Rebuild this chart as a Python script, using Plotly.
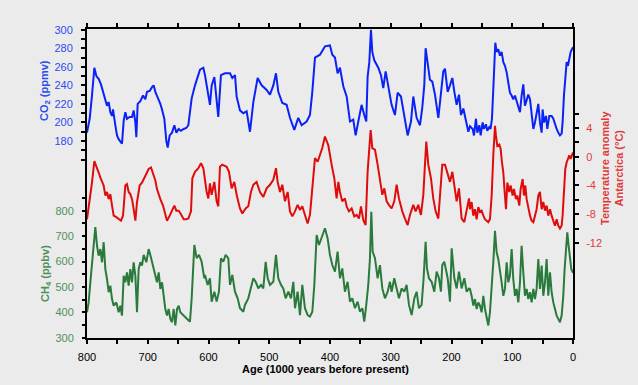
import plotly.graph_objects as go

# ---------------- data ----------------
co2_age = [800, 795.6, 791.8, 787.9, 784.6, 780.8, 777, 773.7, 769.8, 767.1,
           764.3, 761.6, 758.8, 757.2, 753.4, 750.6, 747.9, 745.1, 742.4, 739.6,
           736.9, 734.2, 729.8, 725.9, 723.2, 720.4, 718.8, 716.6, 712.2, 707.8,
           704, 701.2, 696.8, 693, 690.3, 687.5, 684.8, 682, 679.3, 676.5,
           672.7, 669.4, 667.2, 663.9, 660.1, 656.2, 652.9, 649.1, 645.3, 640.9,
           636.5, 633.2, 627.7, 622.2, 614, 608.5,
           605.8, 597.6, 594.8, 590.4, 588.2, 583.9, 579.5, 572.9, 564.6, 560.8, 556.4, 553.7, 548.2, 542.7, 537.2,
           531.7, 526.2, 519.1, 512.5, 504.3, 498.8, 493.3, 488.9, 485.1, 478.5, 471.4, 465.9, 458.8, 452.2, 446.7,
           438.5, 433, 429.1, 424.7, 416.5,
           408.3, 400.1, 396.2, 391.8, 387.5, 383.6, 378.1, 372.6, 367.1, 361.7, 357.8, 353.4, 348, 343.6, 340.3,
           338.1, 335.3, 332.6, 330.4, 327.1, 320.5, 316.1, 312.3, 308.4, 303, 298.6, 293.1, 288.7, 283.2, 277.7,
           272.2, 266.7, 262.9, 257.4, 251.9, 248.1, 244.8, 242.6, 239.3, 235.5, 231.6, 227.2, 221.7, 217.4, 213.5,
           210.7, 206.3, 202.5, 198.6, 195.3, 191.5, 187.7, 184.4, 180.5, 176.7, 172.3,
           169.6, 165.2, 163, 159.7, 157.5, 154.2, 152, 148.7, 146.6, 143.3,
           141.1, 137.8, 135.6, 133.4, 131.2, 129.5, 127.9, 125.7, 123, 120.2,
           117.5, 114.7, 112, 109.2, 106.5, 103.8, 101, 98.3, 95.5, 92.8,
           90, 87.3, 84.6, 81.8, 79.1, 76.3, 73.6, 70.8, 68.1, 65.3,
           62.6, 59.9, 57.1, 54.4, 51.6, 50, 47.8, 44.5, 42.3, 39,
           35.2, 32.4, 29.7, 26.9, 24.2, 21.5, 18.7, 17.1, 14.9, 12.7,
           10.5, 8.3, 6.1, 3.9, 1.7, 0]
co2_ppmv = [189, 204, 229, 259, 250, 247, 241, 233, 223, 218,
            222, 211, 207, 214, 197, 186, 182, 180, 177, 202,
            211, 204, 206, 206, 213, 200, 184, 220, 223, 229,
            225, 233, 234, 238, 240, 233, 229, 223, 220, 214,
            204, 180, 173, 186, 189, 197, 189, 193, 191, 193,
            194, 197, 226, 240, 257, 259,
            251, 219, 240, 249, 233, 206, 251, 253, 253, 248, 251, 228, 213, 210, 212,
            190, 222, 248, 240, 235, 230, 240, 253, 233, 221, 219, 205, 192, 205, 197,
            201, 208, 233, 270, 273,
            282, 283, 273, 270, 253, 259, 239, 228, 201, 203, 186, 201, 219, 208, 201,
            249, 265, 300, 276, 267, 259, 251, 237, 255, 237, 219, 208, 232, 228, 205,
            186, 201, 228, 205, 197, 216, 240, 280, 262, 246, 244, 230, 205, 233, 255,
            258, 233, 240, 248, 233, 219, 230, 208, 215, 205, 190,
            196, 193, 186, 204, 189, 197, 186, 200, 193, 198,
            191, 195, 193, 204, 236, 265, 286, 276, 279, 272,
            276, 265, 261, 254, 243, 232, 229, 225, 229, 223,
            218, 211, 229, 241, 218, 225, 230, 225, 211, 193,
            200, 211, 220, 200, 189, 214, 200, 207, 193, 207,
            207, 204, 197, 193, 189, 186, 188, 200, 229, 243,
            265, 261, 268, 276, 279, 281]

temp_age = [800, 795.6, 791.8, 787.9, 784.6, 780.8, 778, 775.3, 772.6, 769.8,
            767.1, 764.3, 761.6, 758.8, 756.1, 751.7, 747.9, 744, 740.7, 736.9,
            734.2, 731.4, 728.7, 725.9, 723.2, 720.4, 717.7, 713.3, 709.5, 705.6,
            702.3, 698.5, 694.6, 691.4, 687.5, 684.8, 682, 679.3, 674.9, 671.1,
            668.3, 663.9, 660.1, 656.2, 652.9, 649.1, 645.3, 640.9, 636.5,
            633.2, 628.8, 626.6, 622.2, 616.7, 612.3, 608.5,
            603, 600.3, 597.6, 594.8, 590.4, 586.6, 583.9, 581.1, 577.3, 570.1, 566.3, 561.9, 557.5, 553.7, 548.2,
            544.3, 538.9, 534.5, 530.1, 526.2, 520.8, 515.3, 509.8, 504.3, 498.8, 493.3, 488.9, 486.2, 482.3,
            478.5, 474.1, 469.7, 465.9, 462, 457.7, 453.3, 449.4, 445.6, 441.2, 436.8, 433, 429.1, 424.7, 420.3,
            416.5, 412.7,
            408.3, 402.8, 397.3, 392.9, 389.1, 386.3, 383.6, 379.8, 375.4, 372.6, 368.8, 364.4, 360, 356.2, 352.3,
            349, 345.2, 341.4, 338.1, 335.3, 333.1, 330.4, 326, 321.6, 317.8, 313.9, 310.6, 306.8, 303, 298.6,
            294.2, 290.3, 286.5, 281, 276.6, 272.2, 268.4, 262.9, 259.1, 254.7, 250.3, 246.4, 243.7, 241.5, 238.2,
            233.8, 230, 226.1, 221.7, 219, 215.2,
            210.7, 206.3, 202.5, 198.6, 195.3, 191.5, 187.7, 183.3, 178.9, 175, 171.2,
            169.6, 166.9, 164.1, 161.4, 158.6, 155.9, 153.1, 150.4, 147.6, 144.9,
            142.2, 139.4, 136.7, 133.9, 131.2, 128.4, 126.8, 124.6, 121.3, 119.1,
            116.9, 114.7, 112.5, 110.3, 108.1, 104.9, 102.7, 99.4, 97.2, 93.9,
            91.7, 88.4, 86.2, 82.9, 80.7, 78.5, 76.3, 73.6, 70.8, 68.1,
            65.3, 62.6, 59.9, 57.1, 54.4, 51.6, 48.9, 46.1, 43.4, 40.7,
            37.9, 35.2, 32.4, 29.7, 26.9, 24.2, 21.5, 18.7, 17.1, 14.9,
            12.7, 10.5, 8.3, 6.1, 3.9, 1.7, 0]
temp_c = [-8.7, -6.3, -3.6, -0.6, -1.5, -2.2, -2.9, -3.6, -4.0, -5.4,
          -4.9, -5.9, -5.2, -6.8, -8.2, -8.4, -8.7, -8.9, -8.2, -4.0,
          -3.8, -4.9, -5.2, -5.9, -7.3, -8.9, -6.3, -4.0, -3.6, -2.9,
          -2.2, -1.7, -1.5, -2.2, -3.3, -4.5, -5.4, -5.9, -6.8, -8.0,
          -8.9, -8.2, -7.5, -6.8, -7.5, -7.5, -8.0, -8.7, -8.7,
          -8.6, -7.6, -3.0, -2.1, -1.6, -0.9, -1.6,
          -4.9, -5.8, -3.7, -5.3, -3.5, -6.2, -6.9, -1.4, -1.1, -1.4, -2.1, -4.4, -3.5, -5.3, -7.2,
          -7.9, -7.2, -6.9, -4.9, -3.9, -3.5, -4.9, -5.6, -4.4, -3.9, -3.2, -1.6, -3.5, -4.9,
          -3.9, -6.2, -4.9, -7.6, -8.3, -7.6, -6.7, -7.4, -6.9, -8.1, -9.3, -8.1, -3.9, -0.2, -0.7,
          0.2, 1.2,
          2.8, 1.6, -1.1, -3.0, -5.8, -3.5, -4.9, -6.2, -5.8, -6.9, -7.6, -7.2, -8.3, -8.1, -8.6,
          -6.9, -8.8, -9.5, -2.1, 0.7, 3.7, 1.2, 1.0, -1.1, -3.5, -5.3, -4.4, -6.2, -6.7, -7.2,
          -6.2, -3.9, -5.8, -7.6, -8.6, -9.5, -8.1, -6.7, -7.6, -6.7, -8.1, -5.3, -1.1, 2.1, -1.1,
          -3.0, -5.8, -7.6, -8.6, -4.9, -1.1,
          -1.1, -2.5, -3.5, -2.1, -4.4, -6.2, -4.4, -8.6, -9.1, -7.6, -5.8,
          -7.3, -6.3, -8.2, -7.3, -8.7, -7.0, -7.7, -7.5, -8.2, -8.7,
          -8.9, -9.1, -8.7, -5.4, 0.2, 4.3, 2.9, 1.5, 1.7, 1.1,
          -0.8, -2.2, -4.9, -7.3, -3.6, -4.9, -4.0, -5.4, -4.5, -5.9,
          -5.4, -6.8, -4.5, -3.1, -5.4, -4.0, -5.9, -7.3, -8.2, -8.9,
          -9.1, -8.2, -7.3, -5.4, -4.9, -7.3, -6.3, -7.5, -6.8, -8.2,
          -7.3, -8.2, -8.9, -9.6, -8.7, -9.6, -10.0, -9.6, -8.2, -4.0,
          -1.7, -0.8, -0.3, 0.2, -0.3, 0.4, 0.6]

ch4_age = [800, 797.3, 794.5, 791.8, 789, 786.3, 783.5, 780.8, 778, 775.3,
           772.6, 769.8, 767.1, 764.3, 761.6, 758.8, 756.1, 751.7, 747.9, 745.1,
           742.4, 739.6, 736.9, 734.2, 731.4, 728.7, 725.9, 723.2, 720.4, 717.7,
           715, 712.2, 709.5, 706.7, 702.3, 698.5, 695.7, 693, 690.3, 687.5,
           684.8, 682, 679.3, 676.5, 673.8, 671.1, 668.3, 665.6, 662.8, 660.1,
           657.3, 654.6, 651.8, 649.1, 646.4, 640.9, 636.5,
           630.5, 627.7, 623.3, 619.5, 615.6, 611.3, 606.9,
           605.8, 601.4, 597.6, 594.8, 590.4, 586.6, 582.8, 579.5, 575.6, 571.8, 567.4, 564.6, 560.8, 556.4, 552,
           548.2, 542.7, 540, 534.5, 530.1, 526.2, 522.4, 518, 513.6, 509.8, 505.9, 502.6, 498.8, 493.3, 488.9,
           485.1, 480.7, 476.9, 473, 468.6, 464.2, 460.4, 457.6, 453.3, 449.4, 445.6, 441.2, 436.8, 433, 429.1,
           425.8, 422, 418.1, 413.8,
           408.3, 403.9, 400.1, 396.2, 391.8, 387.5, 383.6, 379.8, 375.4, 371, 367.1, 363.3, 358.9, 354.5, 350.7,
           346.8, 343.6, 340.3, 337, 334.2, 332, 329.8, 326, 321.6, 317.8, 313.9, 309.5, 305.1, 301.3, 298.6,
           294.2, 290.3, 286.5, 282.1, 277.7, 273.9, 270, 265.6, 261.2, 257.4, 253.6, 249.2, 245.9, 242.6, 240.4,
           237.1, 232.7, 228.3, 224.5, 220.6, 217.4, 215.2, 211.9,
           210.7, 206.3, 202.5, 199.7, 195.3, 191.5, 187.7, 183.3, 178.9, 175, 171.2,
           169.6, 166.9, 164.1, 161.4, 158.6, 155.9, 153.1, 150.4, 147.6, 144.9,
           142.2, 139.4, 136.7, 133.9, 131.2, 128.4, 125.7, 123, 120.2, 117.5,
           114.7, 112, 109.2, 106.5, 103.8, 101, 98.3, 95.5, 92.8, 90,
           87.3, 84.6, 81.8, 79.1, 76.3, 73.6, 70.8, 68.1, 65.3, 62.6,
           59.9, 57.1, 54.4, 51.6, 48.9, 46.1, 43.4, 40.7, 37.9, 35.2,
           32.4, 29.7, 26.9, 24.2, 21.5, 18.7, 16, 13.8, 11.6, 9.4,
           7.2, 5, 2.8, 0]
ch4_ppbv = [400, 439, 518, 597, 676, 735, 662, 623, 649, 597,
            676, 570, 531, 479, 505, 452, 426, 439, 400, 426,
            387, 544, 518, 557, 505, 570, 518, 597, 544, 400,
            570, 597, 584, 626, 597, 649, 626, 597, 570, 544,
            518, 557, 492, 518, 465, 413, 387, 413, 374, 361,
            413, 348, 413, 426, 400, 387, 374,
            363, 455, 665, 613, 626, 599, 534,
            547, 508, 534, 442, 481, 442, 481, 613, 599, 626, 613, 508, 547, 481, 455,
            416, 402, 429, 455, 494, 534, 520, 494, 508, 494, 599, 534, 508, 520, 626,
            534, 508, 494, 455, 481, 455, 520, 416, 481, 389, 508, 416, 389, 383, 402,
            508, 704, 665, 691,
            731, 691, 626, 586, 560, 639, 534, 573, 481, 520, 442, 455, 416, 442, 402,
            416, 363, 429, 508, 613, 796, 639, 613, 534, 586, 494, 455, 481, 520, 481,
            534, 494, 455, 494, 481, 508, 429, 389, 455, 481, 416, 429, 534, 678, 573,
            534, 520, 481, 560, 534, 481, 586, 599,
            586, 534, 442, 652, 534, 494, 560, 494, 534, 481, 494,
            492, 465, 426, 452, 413, 439, 426, 400, 465, 413,
            374, 348, 400, 492, 597, 721, 636, 610, 570, 518,
            465, 492, 597, 518, 544, 649, 531, 465, 492, 439,
            518, 662, 557, 465, 492, 452, 479, 439, 492, 452,
            492, 610, 492, 584, 465, 518, 610, 465, 557, 479,
            439, 413, 387, 374, 361, 387, 465, 570, 662, 715,
            662, 623, 570, 555]

assert len(co2_age) == len(co2_ppmv)
assert len(temp_age) == len(temp_c)
assert len(ch4_age) == len(ch4_ppbv)

age_ticks = list(range(0, 801, 50))
co2_ticks = list(range(160, 301, 10))
ch4_ticks = list(range(300, 851, 50))
temp_ticks = list(range(-12, 7, 2))

# ---------------- styling ----------------
BG = "#ebebeb"
BLUE_LINE = "#0a22f5"
BLUE_TXT = "#2b4cf0"
RED_LINE = "#e00c0c"
RED_TXT = "#e03a3a"
GREEN_LINE = "#2a7a3c"
GREEN_TXT = "#4f8f5c"
FONT = "Liberation Sans, Arial, sans-serif"
LW = 2.0

fig = go.Figure()
fig.add_trace(go.Scatter(x=co2_age, y=co2_ppmv, mode="lines", yaxis="y",
                         line=dict(color=BLUE_LINE, width=LW), name="CO2"))
fig.add_trace(go.Scatter(x=temp_age, y=temp_c, mode="lines", yaxis="y3",
                         line=dict(color=RED_LINE, width=LW), name="Temperature"))
fig.add_trace(go.Scatter(x=ch4_age, y=ch4_ppbv, mode="lines", yaxis="y2",
                         line=dict(color=GREEN_LINE, width=LW), name="CH4"))

fig.update_layout(
    width=638, height=385,
    margin=dict(l=87, r=65, t=29, b=47),
    paper_bgcolor=BG, plot_bgcolor=BG,
    showlegend=False,
    font=dict(family=FONT, size=11),
    xaxis=dict(range=[800, 0], showgrid=False, zeroline=False,
               showline=True, linecolor="black", linewidth=2, mirror="ticks",
               ticks="outside", ticklen=4, tickwidth=1.5, tickcolor="black",
               tickvals=age_ticks,
               ticktext=[str(v) if v % 100 == 0 else "" for v in age_ticks],
               tickfont=dict(color="black", size=11), ticklabelstandoff=4),
    yaxis=dict(range=[-32.4, 300.75], showgrid=False, zeroline=False,
               showline=True, linecolor="black", linewidth=2,
               ticks="outside", ticklen=4, tickwidth=1.5, tickcolor="black",
               tickvals=co2_ticks,
               ticktext=[str(v) if (v % 20 == 0 and v >= 180) else "" for v in co2_ticks],
               tickfont=dict(color=BLUE_TXT, size=11), ticklabelstandoff=6),
    yaxis2=dict(range=[298.8, 1515.4], overlaying="y", side="left", showgrid=False, zeroline=False,
                showline=False,
                ticks="outside", ticklen=4, tickwidth=1.5, tickcolor="black",
                tickvals=ch4_ticks,
                ticktext=[str(v) if (v % 100 == 0 and v <= 800) else "" for v in ch4_ticks],
                tickfont=dict(color=GREEN_TXT, size=11), ticklabelstandoff=6),
    yaxis3=dict(range=[-25.22, 17.77], overlaying="y", side="right", showgrid=False, zeroline=False,
                showline=True, linecolor="black", linewidth=2,
                ticks="outside", ticklen=4, tickwidth=1.5, tickcolor="black",
                tickvals=temp_ticks,
                ticktext=[str(v) if v % 4 == 0 else "" for v in temp_ticks],
                tickfont=dict(color=RED_TXT, size=11), ticklabelstandoff=5),
)

W, H = 486.0, 309.0
def px(x):
    return (x - 87) / W
def py(y):
    return (338 - y) / H

common = dict(xref="paper", yref="paper", showarrow=False, xanchor="center", yanchor="middle")
fig.add_annotation(text="CO<sub>2</sub> (ppmv)", x=px(45), y=py(91), textangle=-90,
                   font=dict(family=FONT, size=11, color=BLUE_TXT, weight="bold"), **common)
fig.add_annotation(text="CH<sub>4</sub> (ppbv)", x=px(46), y=py(274), textangle=-90,
                   font=dict(family=FONT, size=11, color=GREEN_TXT, weight="bold"), **common)
fig.add_annotation(text="Temperature anomaly<br>Antarctica (°C)", x=px(612), y=py(168), textangle=-90,
                   font=dict(family=FONT, size=11, color=RED_TXT, weight="bold"), **common)
fig.add_annotation(text="Age (1000 years before present)", x=px(325), y=py(369),
                   font=dict(family=FONT, size=11, color="black", weight="bold"), **common)

fig.write_html("out.html", config={"displayModeBar": False},
               post_script="document.body.style.margin='0';")
